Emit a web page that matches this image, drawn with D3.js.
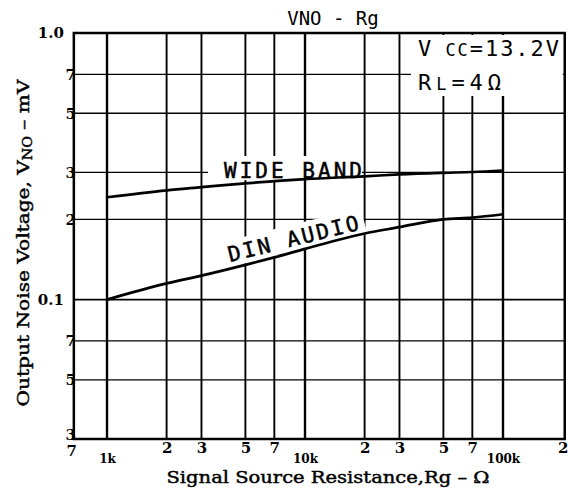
<!DOCTYPE html>
<html>
<head>
<meta charset="utf-8">
<script src="https://cdn.jsdelivr.net/npm/d3@7"></script>
<style>
  body { margin: 0; background: #fff; }
  svg { display: block; }
</style>
</head>
<body>
<svg id="chart" width="568" height="493"></svg>
<script>
// Signal source resistance (ohm) at which the noise was measured
const resistance = [1000, 2000, 3000, 5000, 7000, 10000, 20000, 30000, 50000, 70000, 100000];
// Output noise voltage (mV), wide-band measurement
const wideBand = [0.242, 0.257, 0.264, 0.273, 0.278, 0.283, 0.290, 0.295, 0.299, 0.301, 0.305];
// Output noise voltage (mV), DIN audio weighting
const dinAudio = [0.100, 0.115, 0.123, 0.135, 0.144, 0.155, 0.177, 0.187, 0.200, 0.203, 0.209];

// Log grid and axis labelling
const xGrid = [1000, 2000, 3000, 5000, 7000, 10000, 20000, 30000, 50000, 70000, 100000];
const yGrid = [0.7, 0.5, 0.3, 0.2, 0.1, 0.07, 0.05];
const xTickValues = [700, 1000, 2000, 3000, 5000, 7000, 10000, 20000, 30000, 50000, 70000, 100000, 200000];
const xTickLabels = ["7", "1k", "2", "3", "5", "7", "10k", "2", "3", "5", "7", "100k", "2"];
const yTickValues = [1, 0.7, 0.5, 0.3, 0.2, 0.1, 0.07, 0.05, 0.03];
const yTickLabels = ["1.0", "7", "5", "3", "2", "0.1", "7", "5", "3"];
const xExtent = [680, 205000];
const yExtent = [0.03, 1];

const svg = d3.select("#chart");
const x = d3.scaleLog().domain([1000, 100000]).range([107, 503]);
const y = d3.scaleLog().domain([0.03, 1]).range([439, 33]);

const plotLeft = x(xExtent[0]), plotRight = x(xExtent[1]);
const plotTop = y(yExtent[1]), plotBottom = y(yExtent[0]);

const letterFont = "'DejaVu Sans Mono', 'Liberation Mono', monospace";
const serifFont = "'DejaVu Serif', 'Liberation Serif', serif";

// grid
const grid = svg.append("g").attr("stroke", "#000");
grid.selectAll("line.v").data(xGrid).join("line")
  .attr("class", "v")
  .attr("x1", d => x(d)).attr("x2", d => x(d))
  .attr("y1", plotTop).attr("y2", plotBottom)
  .attr("stroke-width", d => [1000, 10000, 100000].includes(d) ? 2.4 : 1.9);
grid.selectAll("line.h").data(yGrid).join("line")
  .attr("class", "h")
  .attr("x1", plotLeft).attr("x2", plotRight)
  .attr("y1", d => y(d)).attr("y2", d => y(d))
  .attr("stroke-width", d => d === 0.1 ? 1.8 : 1.3);

// plot frame
svg.append("rect")
  .attr("x", plotLeft).attr("y", plotTop)
  .attr("width", plotRight - plotLeft).attr("height", plotBottom - plotTop)
  .attr("fill", "none").attr("stroke", "#000").attr("stroke-width", 2.5);

// white panels behind the lettering
svg.append("rect").attr("x", 411).attr("y", plotTop + 2)
  .attr("width", plotRight - 2 - 411).attr("height", 96 - plotTop - 2).attr("fill", "#fff");
svg.append("rect").attr("x", 208).attr("y", 156)
  .attr("width", 362 - 208).attr("height", 24).attr("fill", "#fff");

// DIN AUDIO label sits along its curve
const dinAngle = -14;
const dinLabel = svg.append("g").attr("transform", `translate(230,262) rotate(${dinAngle})`);
dinLabel.append("rect").attr("x", -5).attr("y", -21).attr("width", 145).attr("height", 26).attr("fill", "#fff");

// curves
const line = d3.line()
  .x(d => x(d[0]))
  .y(d => y(d[1]))
  .curve(d3.curveMonotoneX);
[wideBand, dinAudio].forEach(series => {
  svg.append("path")
    .datum(d3.zip(resistance, series))
    .attr("d", line)
    .attr("fill", "none")
    .attr("stroke", "#000")
    .attr("stroke-width", 2.7)
    .attr("stroke-linejoin", "round");
});

// curve labels
svg.append("text")
  .attr("x", 224).attr("y", 178)
  .attr("font-family", letterFont).attr("font-size", 21)
  .attr("stroke", "#000").attr("stroke-width", 0.5)
  .attr("textLength", 138).attr("lengthAdjust", "spacing")
  .text("WIDE BAND");
dinLabel.append("text")
  .attr("x", 0).attr("y", 0)
  .attr("font-family", letterFont).attr("font-size", 21)
  .attr("stroke", "#000").attr("stroke-width", 0.5)
  .attr("textLength", 134).attr("lengthAdjust", "spacing")
  .text("DIN AUDIO");

// operating conditions
const vcc = svg.append("text").attr("x", 418).attr("y", 56)
  .attr("font-family", letterFont).attr("font-size", 22)
  .attr("textLength", 141).attr("lengthAdjust", "spacing");
vcc.append("tspan").text("V");
vcc.append("tspan").attr("font-size", 17).text(" CC");
vcc.append("tspan").text("=13.2V");
const rl = svg.append("text").attr("x", 418).attr("y", 90)
  .attr("font-family", letterFont).attr("font-size", 22)
  .attr("textLength", 83).attr("lengthAdjust", "spacing");
rl.append("tspan").text("R");
rl.append("tspan").attr("font-size", 17).text("L");
rl.append("tspan").text("=4Ω");

// title
svg.append("text")
  .attr("x", 333).attr("y", 25)
  .attr("text-anchor", "middle")
  .attr("font-family", letterFont).attr("font-size", 19)
  .text("VNO - Rg");

// x axis labels
const isK = d => String(xTickLabels[xTickValues.indexOf(d)]).includes("k");
const xAxis = d3.axisBottom(x)
  .tickValues(xTickValues)
  .tickFormat((d, i) => xTickLabels[i])
  .tickSize(0)
  .tickPadding(2);
const gx = svg.append("g").attr("transform", `translate(0,${plotBottom})`).call(xAxis);
gx.select(".domain").remove();
gx.selectAll("text")
  .attr("font-family", serifFont).attr("font-weight", "bold")
  .attr("font-size", d => isK(d) ? 12 : 15)
  .attr("y", d => isK(d) ? 15 : (d === 700 ? 6 : 3))
  .attr("dx", d => d === 700 ? -5 : 0)
  .attr("fill", "#000");

// y axis labels
const yAxis = d3.axisLeft(y)
  .tickValues(yTickValues)
  .tickFormat((d, i) => yTickLabels[i])
  .tickSize(0)
  .tickPadding(0);
const gy = svg.append("g").attr("transform", `translate(${plotLeft},0)`).call(yAxis);
gy.select(".domain").remove();
gy.selectAll("text")
  .attr("font-family", serifFont).attr("font-weight", "bold")
  .attr("font-size", 15)
  .attr("x", (d, i) => yTickLabels[i].includes(".") ? -10 : 2)
  .attr("dy", (d, i) => i === yTickValues.length - 1 ? "0em" : "0.32em")
  .attr("fill", "#000");

// axis titles
svg.append("text")
  .attr("x", 328).attr("y", 483)
  .attr("text-anchor", "middle")
  .attr("font-family", serifFont).attr("font-size", 17)
  .attr("stroke", "#000").attr("stroke-width", 0.45)
  .attr("textLength", 323).attr("lengthAdjust", "spacingAndGlyphs")
  .text("Signal Source Resistance,Rg – Ω");

const yTitle = svg.append("text")
  .attr("transform", "translate(29,243) rotate(-90)")
  .attr("text-anchor", "middle")
  .attr("font-family", serifFont).attr("font-size", 17)
  .attr("stroke", "#000").attr("stroke-width", 0.45)
  .attr("textLength", 327).attr("lengthAdjust", "spacingAndGlyphs");
yTitle.append("tspan").text("Output Noise Voltage, V");
yTitle.append("tspan").attr("font-size", 12).attr("dy", 3).text("NO");
yTitle.append("tspan").attr("dy", -3).text(" – mV");
</script>
</body>
</html>
